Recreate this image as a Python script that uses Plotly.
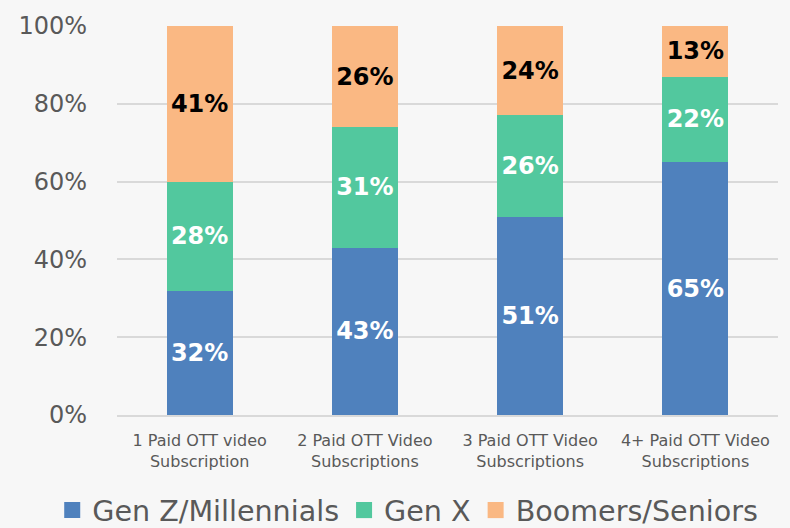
import plotly.graph_objects as go

categories = ["1 Paid OTT video<br>Subscription", "2 Paid OTT Video<br>Subscriptions",
              "3 Paid OTT Video<br>Subscriptions", "4+ Paid OTT Video<br>Subscriptions"]
gen_z = [32, 43, 51, 65]
gen_x = [28, 31, 26, 22]
boomers = [41, 26, 24, 13]
# Stack heights as drawn (top segments fill up to 100%)
boomers_drawn = [40, 26, 23, 13]

series = [
    ("Gen Z/Millennials", gen_z, gen_z, "#4f81bd", "white"),
    ("Gen X", gen_x, gen_x, "#52c89e", "white"),
    ("Boomers/Seniors", boomers_drawn, boomers, "#fab883", "black"),
]

FONT = "DejaVu Sans, sans-serif"

fig = go.Figure()
for name, vals, labels, color, tcolor in series:
    fig.add_trace(go.Bar(
        x=categories, y=vals, name=name, marker_color=color,
        marker_line_width=0, showlegend=False,
        text=[f"{v}%" for v in labels], textposition="inside",
        insidetextanchor="middle",
        textfont=dict(color=tcolor, size=24, family=FONT, weight="bold"),
        width=0.4,
    ))
# legend entries with larger square swatches
for name, vals, labels, color, tcolor in series:
    fig.add_trace(go.Scatter(
        x=[None], y=[None], mode="markers", name=name,
        marker=dict(symbol="square", size=16, color=color),
        hoverinfo="skip",
    ))

fig.update_layout(
    barmode="stack",
    width=790, height=528,
    margin=dict(l=117, r=12, t=26, b=113, autoexpand=False),
    paper_bgcolor="#f7f7f7", plot_bgcolor="#f7f7f7",
    font=dict(family=FONT, color="#595959"),
    uniformtext=dict(minsize=10, mode="show"),
    showlegend=True,
    legend=dict(orientation="h", x=-0.098, xanchor="left",
                y=-0.18, yanchor="top",
                font=dict(size=28.6, color="#595959"), itemwidth=30, traceorder="normal",
                bgcolor="rgba(0,0,0,0)"),
    xaxis=dict(tickfont=dict(size=16, color="#595959"), showline=True,
               linecolor="#d9d9d9", linewidth=2, showgrid=False, automargin=False,
               ticklabelstandoff=10),
    yaxis=dict(range=[0, 100], tickvals=[0, 20, 40, 60, 80, 100],
               ticktext=["0%", "20%", "40%", "60%", "80%", "100%"],
               tickfont=dict(size=24, color="#595959"),
               gridcolor="#d9d9d9", gridwidth=2, zeroline=False, ticklen=0,
               ticklabelstandoff=29, automargin=False),
)

fig.write_html("out.html", config={"displayModeBar": False},
               post_script="document.body.style.margin='0';document.body.style.background='#f7f7f7';")
